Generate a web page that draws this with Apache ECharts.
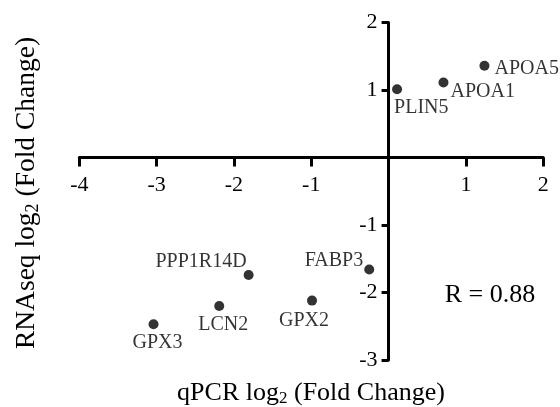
<!DOCTYPE html>
<html><head><meta charset="utf-8">
<script src="https://cdn.jsdelivr.net/npm/echarts@6/dist/echarts.min.js"></script>
<style>html,body{margin:0;padding:0;background:#fff}#c{width:560px;height:407px}</style>
</head><body><div id="c"></div>
<script>
// ---- data ----
const genes  = ['APOA5', 'APOA1', 'PLIN5', 'FABP3', 'PPP1R14D', 'GPX2', 'LCN2', 'GPX3'];
const qpcr   = [1.24, 0.71, 0.11, -0.25, -1.81, -0.99, -2.19, -3.04];
const rnaseq = [1.36, 1.11, 1.01, -1.66, -1.74, -2.12, -2.20, -2.47];
const xTickValues = [-4, -3, -2, -1, 0, 1, 2];
const yTickValues = [-3, -2, -1, 0, 1, 2];
const correlationText = 'R = 0.88';
const xTitleParts = ['qPCR log', '2', ' (Fold Change)'];
const yTitleParts = ['RNAseq log', '2', ' (Fold Change)'];

// ---- label placement (style only) ----
const labelPlace = {
  APOA5:    { align: 'left',   offset: [10, 3] },
  APOA1:    { align: 'left',   offset: [7, 9] },
  PLIN5:    { align: 'left',   offset: [-3, 18] },
  FABP3:    { align: 'right',  offset: [-6, -9] },
  PPP1R14D: { align: 'right',  offset: [-2, -13] },
  GPX2:     { align: 'center', offset: [-8, 20] },
  LCN2:     { align: 'center', offset: [4, 19] },
  GPX3:     { align: 'center', offset: [4, 19] }
};

const FONT = '"Liberation Serif", "Times New Roman", serif';

const seriesData = genes.map((g, i) => ({
  name: g,
  value: [qpcr[i], rnaseq[i]],
  label: { align: labelPlace[g].align, offset: labelPlace[g].offset }
}));

function richTitle(parts) {
  return '{m|' + parts[0] + '}{s|' + parts[1] + '}{m|' + parts[2] + '}';
}
function titleRich(size) {
  return {
    m: { fontSize: size, fontFamily: FONT, color: '#000' },
    s: { fontSize: Math.round(size * 0.65), fontFamily: FONT, color: '#000', padding: [Math.round(size * 0.46), 0, 0, 0] }
  };
}

const chart = echarts.init(document.getElementById('c'), null, { renderer: 'canvas' });
const hideZero = v => (v === 0 ? '' : String(v));

chart.setOption({
  animation: false,
  backgroundColor: '#fff',
  grid: { left: 79.3, right: 16.8, top: 22.5, bottom: 47, containLabel: false },
  xAxis: {
    type: 'value',
    min: xTickValues[0], max: xTickValues[xTickValues.length - 1], interval: 1,
    axisLine: { show: true, onZero: false, lineStyle: { color: '#000', width: 3 } },
    axisTick: { show: true, length: 9, lineStyle: { color: '#000', width: 3 } },
    axisLabel: { margin: 17, fontSize: 22, fontFamily: FONT, color: '#000', formatter: hideZero },
    splitLine: { show: false }
  },
  yAxis: {
    type: 'value',
    min: yTickValues[0], max: yTickValues[yTickValues.length - 1], interval: 1,
    axisLine: { show: true, onZero: false, lineStyle: { color: '#000', width: 3 } },
    axisTick: { show: true, length: 7, lineStyle: { color: '#000', width: 3 } },
    axisLabel: { margin: 11, fontSize: 22, fontFamily: FONT, color: '#000', formatter: hideZero },
    splitLine: { show: false }
  },
  series: [{
    type: 'scatter',
    symbol: 'circle',
    symbolSize: 10,
    itemStyle: { color: '#000' },
    label: {
      show: true, position: 'inside', verticalAlign: 'middle',
      formatter: p => p.name,
      fontSize: 20, fontFamily: FONT, color: '#000'
    },
    data: seriesData
  }],
  graphic: [
    {
      type: 'text', x: 311, y: 393,
      style: { text: richTitle(xTitleParts), rich: titleRich(26), align: 'center', verticalAlign: 'middle',
               textAlign: 'center', textVerticalAlign: 'middle', fontSize: 26, fontFamily: FONT, fill: '#000' }
    },
    {
      type: 'text', x: 27, y: 193, rotation: Math.PI / 2,
      style: { text: richTitle(yTitleParts), rich: titleRich(27.5), align: 'center', verticalAlign: 'middle',
               textAlign: 'center', textVerticalAlign: 'middle', fontSize: 27.5, fontFamily: FONT, fill: '#000' }
    },
    {
      type: 'text', x: 490, y: 295,
      style: { text: correlationText, align: 'center', verticalAlign: 'middle',
               textAlign: 'center', textVerticalAlign: 'middle', fontSize: 26, fontFamily: FONT, fill: '#000' }
    }
  ]
});

// Move both axes (line, ticks, labels) to cross at the origin, using the library's own scales.
const origin = chart.convertToPixel({ xAxisIndex: 0, yAxisIndex: 0 }, [0, 0]);
const corner = chart.convertToPixel({ xAxisIndex: 0, yAxisIndex: 0 }, [xTickValues[0], yTickValues[0]]);
chart.setOption({
  xAxis: { offset: -(corner[1] - origin[1]) },
  yAxis: { offset: -(origin[0] - corner[0]) }
});
</script>
</body></html>
